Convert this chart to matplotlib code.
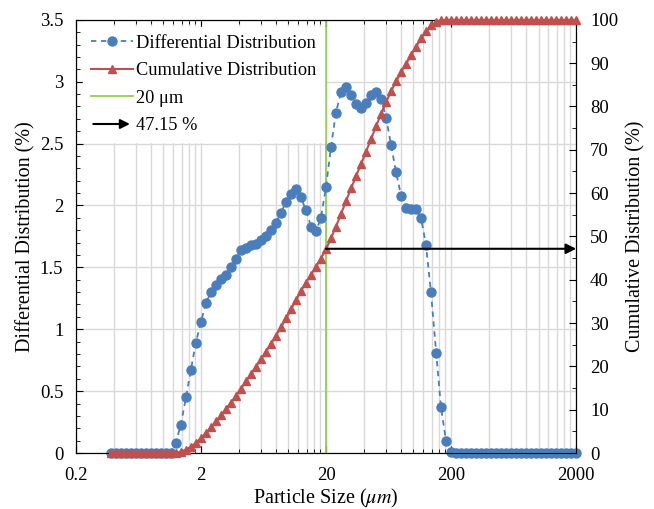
import matplotlib
matplotlib.use("Agg")
import matplotlib.pyplot as plt
from matplotlib.lines import Line2D
from matplotlib.patches import FancyArrowPatch
from matplotlib.legend_handler import HandlerBase
from matplotlib.ticker import FixedLocator, NullFormatter

plt.rcParams['font.family'] = ['Liberation Serif', 'DejaVu Serif']
plt.rcParams['mathtext.fontset'] = 'stix'

# particle size classes (um)
sizes = [0.381, 0.418, 0.458, 0.502, 0.551, 0.604, 0.662, 0.726, 0.796, 0.873,
         0.957, 1.05, 1.15, 1.26, 1.38, 1.52, 1.66, 1.82,
         2.00, 2.19, 2.40, 2.64, 2.89, 3.17, 3.48, 3.81, 4.18, 4.58, 5.02, 5.51,
         6.04, 6.62, 7.26, 7.96, 8.73, 9.57, 10.5, 11.5, 12.6, 13.8, 15.2, 16.6, 18.2,
         20.0, 21.9, 24.0, 26.4, 28.9, 31.7, 34.8, 38.1, 41.8, 45.8, 50.2, 55.1,
         60.4, 66.2, 72.6, 79.6, 87.3, 95.7, 105, 115, 126, 138, 152, 166, 182,
         200, 219, 240, 264, 289, 317, 348, 381, 418, 458, 502, 551, 604, 662,
         726, 796, 873, 957, 1050, 1150, 1260, 1380, 1520, 1660, 1820, 2000]

differential = [0] * 13 + [
    0.08, 0.23, 0.45, 0.67, 0.89, 1.06, 1.21, 1.30, 1.36, 1.41, 1.44, 1.50,
    1.57, 1.64, 1.66, 1.68, 1.69, 1.72, 1.75, 1.80, 1.86, 1.94, 2.03, 2.09,
    2.13, 2.07, 1.96, 1.83, 1.79, 1.90, 2.15, 2.47, 2.75, 2.92, 2.96, 2.89,
    2.82, 2.79, 2.83, 2.89, 2.92, 2.86, 2.71, 2.49, 2.27, 2.08, 1.98, 1.97,
    1.97, 1.90, 1.68, 1.30, 0.81, 0.37, 0.10, 0.01] + [0] * 25

cumulative = [0] * 13 + [
    0.08, 0.31, 0.76, 1.44, 2.33, 3.39, 4.61, 5.91, 7.28, 8.69, 10.14, 11.65,
    13.22, 14.87, 16.54, 18.22, 19.92, 21.65, 23.40, 25.21, 27.08, 29.03, 31.06, 33.16,
    35.30, 37.38, 39.35, 41.18, 42.98, 44.89, 47.05, 49.53, 52.29, 55.22, 58.19, 61.09,
    63.92, 66.73, 69.57, 72.47, 75.40, 78.27, 80.99, 83.49, 85.77, 87.86, 89.85, 91.83,
    93.80, 95.71, 97.40, 98.70, 99.52, 99.89, 99.99, 100.0] + [100.0] * 25

cut_size = 20
cut_percent = 47.15
x_ticks = [0.2, 2, 20, 200, 2000]

blue = '#4a7ebb'
red = '#c0504d'
green = '#92d050'


class HandlerArrow(HandlerBase):
    def create_artists(self, legend, orig_handle, xdescent, ydescent,
                       width, height, fontsize, trans):
        y = height / 2 - ydescent
        a = FancyArrowPatch((-xdescent, y), (width - xdescent, y),
                            arrowstyle='-|>', mutation_scale=14,
                            color='black', lw=1.5, transform=trans)
        return [a]


fig = plt.figure(figsize=(6.54, 5.09), dpi=100)
ax = fig.add_axes([0.116, 0.110, 0.765, 0.851])
ax2 = ax.twinx()

ax.set_xscale('log')
ax.set_xlim(0.2, 2000)
ax.set_ylim(0, 3.5)
ax2.set_ylim(0, 100)

ax.xaxis.set_major_locator(FixedLocator(x_ticks))
ax.xaxis.set_minor_locator(FixedLocator([b * m for b in x_ticks[:-1] for m in range(2, 10)]))
ax.xaxis.set_minor_formatter(NullFormatter())
ax.set_xticklabels(['0.2', '2', '20', '200', '2000'])
ax.set_yticks([0, 0.5, 1, 1.5, 2, 2.5, 3, 3.5])
ax.set_yticklabels(['0', '0.5', '1', '1.5', '2', '2.5', '3', '3.5'])
ax.yaxis.set_minor_locator(FixedLocator([i / 10 for i in range(36)]))
ax2.set_yticks(range(0, 101, 10))
ax2.yaxis.set_minor_locator(FixedLocator(range(0, 101, 5)))

ax.grid(True, which='both', axis='x', color='#d9d9d9', lw=1)
ax.grid(True, which='major', axis='y', color='#d9d9d9', lw=1)
ax.set_axisbelow(True)

ax.tick_params(which='both', direction='in', top=True, right=False, labelsize=13.5)
ax.tick_params(axis='y', pad=9)
ax.tick_params(axis='x', pad=10)
ax.tick_params(which='major', length=5)
ax.tick_params(which='minor', length=3)
ax2.tick_params(which='both', direction='in', labelsize=13.5, pad=10)
ax2.tick_params(which='major', length=5)
ax2.tick_params(which='minor', length=3)

ax.axvline(cut_size, color=green, lw=1.3, zorder=2)
l1, = ax.plot(sizes, differential, color=blue, ls=(0, (3, 2.5)), lw=1.3,
              marker='o', ms=6.5, clip_on=False, zorder=3)
l2, = ax2.plot(sizes, cumulative, color=red, lw=1.5, marker='^', ms=5.5,
               clip_on=False, zorder=3)
ax2.annotate('', xy=(2000, cut_percent), xytext=(cut_size, cut_percent),
             arrowprops=dict(arrowstyle='-|>', color='black', lw=1.5,
                             mutation_scale=15, shrinkA=0, shrinkB=0),
             annotation_clip=False)

ax.set_xlabel(r'Particle Size ($\mu m$)', fontsize=14.5, labelpad=2)
ax.set_ylabel('Differential Distribution (%)', fontsize=14.5, labelpad=3)
ax2.set_ylabel('Cumulative Distribution (%)', fontsize=14.5, labelpad=6)

green_h = Line2D([], [], color=green, lw=1.3)
arrow_h = Line2D([], [], color='black')
leg = ax2.legend([l1, l2, green_h, arrow_h],
                 ['Differential Distribution', 'Cumulative Distribution',
                  '20 \u03bcm', '47.15 %'],
                 loc='upper left', fontsize=13.2, frameon=True, framealpha=1,
                 edgecolor='white', fancybox=False, handlelength=2.3,
                 handletextpad=0.2, labelspacing=0.58, borderaxespad=0.4,
                 handler_map={arrow_h: HandlerArrow()})
leg.set_zorder(10)

fig.savefig('out.png', dpi=100)
